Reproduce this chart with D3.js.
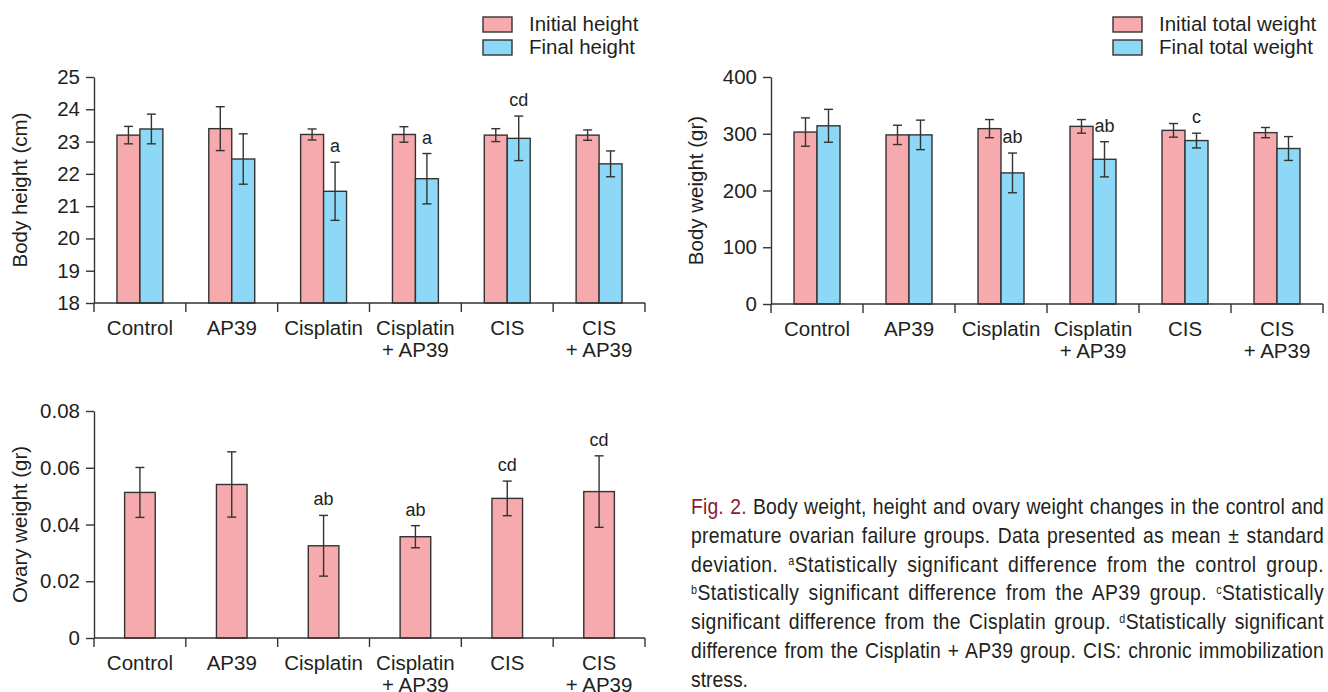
<!DOCTYPE html>
<html>
<head>
<meta charset="utf-8">
<script src="https://cdn.jsdelivr.net/npm/d3@7"></script>
<style>
  body { margin: 0; background: #fff; }
  svg { display: block; }
  text { font-family: "Liberation Sans", Arial, sans-serif; fill: #231f20; }
</style>
</head>
<body>
<script>
// groups (x labels split in lines)
var groups = [["Control"], ["AP39"], ["Cisplatin"], ["Cisplatin", "+ AP39"], ["CIS"], ["CIS", "+ AP39"]];

// body height (cm)
var heightInitial   = [23.2, 23.4, 23.22, 23.22, 23.2, 23.2];
var heightInitialSD = [0.27, 0.68, 0.17, 0.24, 0.2, 0.16];
var heightFinal     = [23.39, 22.46, 21.46, 21.85, 23.1, 22.31];
var heightFinalSD   = [0.46, 0.78, 0.9, 0.78, 0.69, 0.4];
var heightMarks     = ["", "", "a", "a", "cd", ""];
var heightTicks     = [18, 19, 20, 21, 22, 23, 24, 25];

// body weight (gr)
var weightInitial   = [303, 298, 309, 313, 306, 302];
var weightInitialSD = [25, 17, 16, 12, 12, 9];
var weightFinal     = [314, 298, 231, 255, 288, 274];
var weightFinalSD   = [29, 26, 35, 31, 13, 21];
var weightMarks     = ["", "", "ab", "ab", "c", ""];
var weightTicks     = [0, 100, 200, 300, 400];

// ovary weight (gr)
var ovary       = [0.0513, 0.0541, 0.0325, 0.0357, 0.0492, 0.0516];
var ovarySD     = [0.0088, 0.0115, 0.0107, 0.0039, 0.0061, 0.0126];
var ovaryMarks  = ["", "", "ab", "ab", "cd", "cd"];
var ovaryTicks  = [0, 0.02, 0.04, 0.06, 0.08];

var caption = [
  "Body weight, height and ovary weight changes in the control and",
  "premature ovarian failure groups. Data presented as mean \u00b1 standard",
  "deviation. ^aStatistically significant difference from the control group.",
  "^bStatistically significant difference from the AP39 group. ^cStatistically",
  "significant difference from the Cisplatin group. ^dStatistically significant",
  "difference from the Cisplatin + AP39 group. CIS: chronic immobilization",
  "stress."
];

var pink = "#f6aaad", blue = "#8dd8f6", ink = "#333";

var svg = d3.select("body").append("svg")
    .attr("width", 1328)
    .attr("height", 692);

function drawChart(o) {
  var g = svg.append("g");
  var x = d3.scaleBand().domain(d3.range(groups.length)).range([o.x0, o.x1]);
  var y = d3.scaleLinear().domain([o.ticks[0], o.ticks[o.ticks.length - 1]]).range([o.yb, o.yt]);
  var names = o.series.map(function(s, i) { return i; });
  var inner = d3.scaleBand().domain(names).range([0, x.bandwidth()]).paddingOuter(1);

  // y axis
  var ya = g.append("g")
      .attr("transform", "translate(" + o.x0 + ",0)")
      .call(d3.axisLeft(y).tickValues(o.ticks).tickFormat(o.fmt).tickSize(8).tickSizeOuter(0).tickPadding(6));
  ya.selectAll("path, line").attr("stroke", ink).attr("stroke-width", 1.4);
  ya.selectAll("text").attr("font-size", 20.5).attr("fill", "#231f20")
      .style("font-family", "'Liberation Sans', Arial, sans-serif");

  g.append("text")
      .attr("transform", "translate(" + o.labelX + "," + ((o.yt + o.yb) / 2) + ") rotate(-90)")
      .attr("text-anchor", "middle")
      .attr("font-size", 20.5)
      .text(o.label);

  // bars
  o.series.forEach(function(s, si) {
    var bx = function(i) { return x(i) + inner(si); };
    g.append("g").selectAll("rect")
      .data(s.values)
      .enter().append("rect")
        .attr("x", function(d, i) { return bx(i); })
        .attr("y", function(d) { return y(d); })
        .attr("width", inner.bandwidth())
        .attr("height", function(d) { return o.yb - y(d); })
        .attr("fill", s.color)
        .attr("stroke", ink)
        .attr("stroke-width", 1.4);

    var eb = g.append("g").attr("stroke", ink).attr("stroke-width", 1.4);
    s.values.forEach(function(d, i) {
      var cx = bx(i) + inner.bandwidth() / 2;
      var hi = y(d + s.sd[i]), lo = y(d - s.sd[i]);
      eb.append("line").attr("x1", cx).attr("x2", cx).attr("y1", hi).attr("y2", lo);
      eb.append("line").attr("x1", cx - 4.5).attr("x2", cx + 4.5).attr("y1", hi).attr("y2", hi);
      eb.append("line").attr("x1", cx - 4.5).attr("x2", cx + 4.5).attr("y1", lo).attr("y2", lo);
      if (s.marks && s.marks[i]) {
        g.append("text")
          .attr("x", cx)
          .attr("y", hi - 10)
          .attr("text-anchor", "middle")
          .attr("font-size", 18)
          .text(s.marks[i]);
      }
    });
  });

  // x axis with separators between groups
  var xa = g.append("g").attr("stroke", ink).attr("stroke-width", 1.4);
  xa.append("line").attr("x1", o.x0).attr("x2", o.x1).attr("y1", o.yb).attr("y2", o.yb);
  d3.range(groups.length + 1).forEach(function(i) {
    var px = i < groups.length ? x(i) : o.x1;
    xa.append("line").attr("x1", px).attr("x2", px).attr("y1", o.yb).attr("y2", o.yb + 9);
  });
  groups.forEach(function(lines, i) {
    var t = g.append("text")
        .attr("text-anchor", "middle")
        .attr("font-size", 20.5)
        .attr("x", x(i) + x.bandwidth() / 2)
        .attr("y", o.yb + 32);
    lines.forEach(function(l, li) {
      t.append("tspan").attr("x", x(i) + x.bandwidth() / 2).attr("dy", li ? 22 : 0).text(l);
    });
  });

  // legend
  if (o.legend) {
    o.series.forEach(function(s, si) {
      g.append("rect")
        .attr("x", o.legend[0]).attr("y", o.legend[1] + si * 23)
        .attr("width", 29).attr("height", 15)
        .attr("fill", s.color).attr("stroke", ink).attr("stroke-width", 1.4);
      g.append("text")
        .attr("x", o.legend[0] + 46).attr("y", o.legend[1] + si * 23 + 14)
        .attr("font-size", 20.5)
        .text(s.name);
    });
  }
}

drawChart({
  x0: 94, x1: 645, yt: 77, yb: 303, labelX: 27,
  ticks: heightTicks, label: "Body height (cm)", legend: [483, 17], fmt: d3.format("d"),
  series: [
    { name: "Initial height", values: heightInitial, sd: heightInitialSD, color: pink },
    { name: "Final height", values: heightFinal, sd: heightFinalSD, color: blue, marks: heightMarks }
  ]
});

drawChart({
  x0: 771, x1: 1323, yt: 77, yb: 304, labelX: 703,
  ticks: weightTicks, label: "Body weight (gr)", legend: [1113, 17], fmt: d3.format("d"),
  series: [
    { name: "Initial total weight", values: weightInitial, sd: weightInitialSD, color: pink },
    { name: "Final total weight", values: weightFinal, sd: weightFinalSD, color: blue, marks: weightMarks }
  ]
});

drawChart({
  x0: 94, x1: 645, yt: 411, yb: 638, labelX: 27,
  ticks: ovaryTicks, label: "Ovary weight (gr)", fmt: function(d) { return d === 0 ? "0" : d3.format(".2f")(d); },
  series: [
    { name: "Ovary weight", values: ovary, sd: ovarySD, color: pink, marks: ovaryMarks }
  ]
});

// caption: squeezed Liberation Sans for the condensed look, justified line by line
var capW = 633, capX = 691, squeeze = 0.9;
caption.forEach(function(line, li) {
  var t = svg.append("text")
      .attr("transform", "translate(" + capX + "," + (514 + li * 28.8) + ") scale(" + squeeze + ",1)")
      .attr("font-size", 21.5);
  if (li === 0) {
    t.append("tspan").style("fill", "#8a1b30").text("Fig. 2.");
    line = " " + line;
  }
  line.split(/\^([a-d])/).forEach(function(part, pi) {
    if (pi % 2 === 1) {
      t.append("tspan").attr("baseline-shift", "super").attr("font-size", 12).text(part);
    } else if (part) {
      t.append("tspan").text(part);
    }
  });
  if (li < caption.length - 1) {
    var str = t.text();
    var spaces = (str.match(/ /g) || []).length;
    var w = t.node().getComputedTextLength();
    var target = capW / squeeze;
    if (w > target) {
      t.attr("textLength", target).attr("lengthAdjust", "spacingAndGlyphs");
    } else {
      // spread the slack over letters and words
      var extra = target - w;
      var ls = extra * 0.55 / str.length;
      t.attr("letter-spacing", ls);
      var w2 = t.node().getComputedTextLength();
      t.attr("word-spacing", (target - w2) / spaces);
    }
  }
});
</script>
</body>
</html>
